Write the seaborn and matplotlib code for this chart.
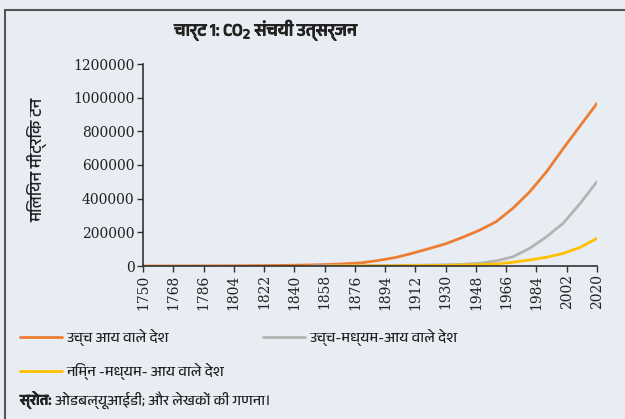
import numpy as np
import pandas as pd
import matplotlib
matplotlib.use("Agg")
import matplotlib.pyplot as plt
import matplotlib.patheffects as pe
from matplotlib import font_manager
from matplotlib.patches import Rectangle
import seaborn as sns

years = list(range(1750, 2021, 10))
high_income = [0, 100, 300, 500, 800, 1200, 1700, 2400, 3300, 4500, 6500, 9000, 13000,
               19000, 33000, 50000, 75000, 103000, 132000, 170000, 212000, 263000,
               343000, 441000, 560000, 699000, 833000, 966000]
upper_middle = [np.nan]*10 + [0, 500, 1000, 1500, 2200, 3000, 4200, 5500, 7000, 10000,
                              16000, 30000, 55000, 105000, 174000, 255000, 372000, 501000]
lower_middle = [np.nan]*11 + [0, 300, 600, 1000, 1500, 2200, 3000, 4000, 6000, 8000,
                              12000, 22000, 36000, 52000, 75000, 111000, 164000]

series_names = ["उच्च आय वाले देश", "उच्च-मध्यम-आय वाले देश", "निम्न -मध्यम- आय वाले देश"]
colors = ["#ED7D31", "#B4B4B4", "#FFC000"]
xticks = list(range(1750, 2021, 18))
yticks = [0, 200000, 400000, 600000, 800000, 1000000, 1200000]

title = "चार्ट 1: CO$_2$ संचयी उत्सर्जन"
ylabel = "मिलियन मीट्रिक टन"
source_bold = "स्रोत:"
source_rest = "ओडबल्यूआईडी; और लेखकों की गणना।"

sns.set_theme(style="ticks")

deva = [f.name for f in font_manager.fontManager.ttflist if "Devanagari" in f.name]
fam = ([deva[0]] if deva else []) + ["Noto Sans", "DejaVu Sans"]
plt.rcParams["font.family"] = fam

bg = "#E7EDF3"
ink = "#222222"
fig = plt.figure(figsize=(6.25, 4.19), dpi=100, facecolor=bg)
ax = fig.add_axes([143/625, 1-266/419, (597-143)/625, (266-64)/419])
ax.set_facecolor(bg)

df = pd.DataFrame({
    "year": years * 3,
    "value": high_income + upper_middle + lower_middle,
    "series": sum([[n]*len(years) for n in series_names], []),
})
sns.lineplot(data=df, x="year", y="value", hue="series", hue_order=series_names,
             palette=colors, linewidth=2.0, ax=ax, legend=False)

ax.set_xlim(1750, 2020)
ax.set_ylim(0, 1200000)
ax.set_xticks(xticks)
ax.set_yticks(yticks)
ax.set_xticklabels([str(t) for t in xticks], rotation=90)
ax.set_yticklabels([str(t) for t in yticks])
ax.tick_params(axis="both", direction="out", length=4, width=1, color="#333333",
               labelcolor=ink, pad=2, labelsize=10, labelfontfamily="DejaVu Serif")
for s in ["top", "right"]:
    ax.spines[s].set_visible(False)
for s in ["left", "bottom"]:
    ax.spines[s].set_color("#333333")
    ax.spines[s].set_linewidth(1.2)
ax.set_xlabel("")
ax.set_ylabel("")
fig.text(37/625, 1-160/419, ylabel, rotation=90, ha="center", va="center",
         fontsize=12, color=ink, family=fam)

bold = [pe.withStroke(linewidth=0.7, foreground=ink)]
fig.text(267/625, 1-30/419, title, ha="center", va="center", fontsize=12.5,
         fontweight="bold", color=ink, family=fam, path_effects=bold)

lines = ax.get_lines()
h = {name: ln for name, ln in zip(series_names, lines)}
common = dict(loc="upper left", frameon=False, handlelength=2.9, handletextpad=0.3,
              borderpad=0, borderaxespad=0, prop={"family": fam, "size": 10.5})
leg1 = fig.legend([h[series_names[0]], h[series_names[2]]],
                  [series_names[0], series_names[2]],
                  bbox_to_anchor=(20/625, 1-329/419), labelspacing=1.15, **common)
leg2 = fig.legend([h[series_names[1]]], [series_names[1]],
                  bbox_to_anchor=(263/625, 1-329/419), **common)
for leg in (leg1, leg2):
    for t in leg.get_texts():
        t.set_color(ink)

fig.text(20/625, 1-400/419, source_bold, ha="left", va="center", fontsize=10.5,
         fontweight="bold", color=ink, family=fam, path_effects=bold)
fig.text(55/625, 1-400/419, source_rest, ha="left", va="center", fontsize=10.5,
         color=ink, family=fam)

fig.patches.append(Rectangle((5/625, -0.05), 1.2, 0.05 + 409/419,
                             transform=fig.transFigure, fill=False,
                             edgecolor="#555555", linewidth=1.5))

fig.savefig("out.png", dpi=100, facecolor=bg)
